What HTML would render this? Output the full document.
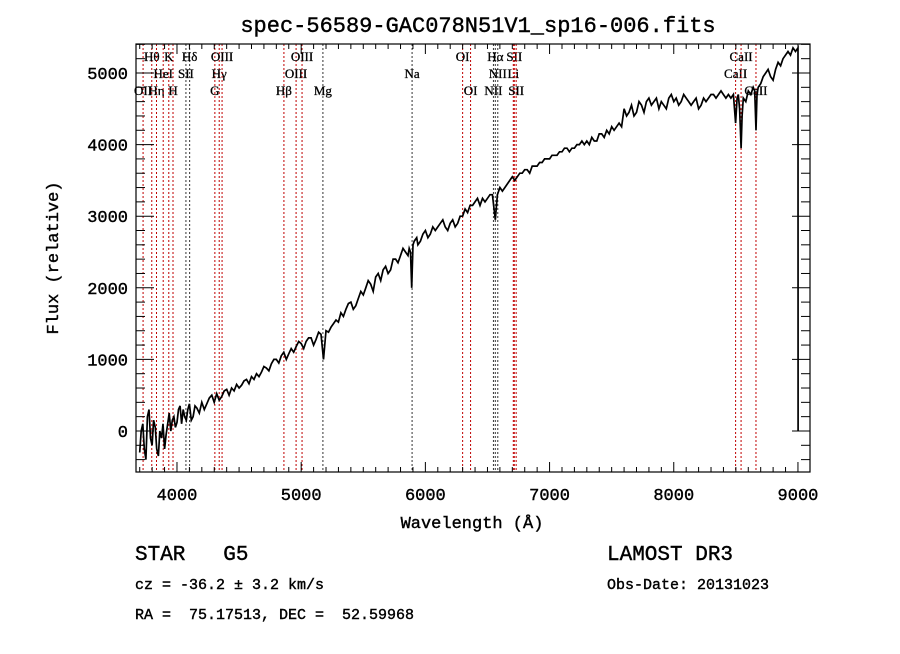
<!DOCTYPE html>
<html><head><meta charset="utf-8"><style>
body{margin:0;background:#fff;}
svg text{font-family:"Liberation Mono",monospace;white-space:pre;stroke:#000;stroke-width:0.4;}
.lab{font-family:"Liberation Serif",serif;font-size:13px;stroke-width:0.3;}
</style></head><body>
<svg id="c" width="900" height="649" xmlns="http://www.w3.org/2000/svg" xml:space="preserve">
<text x="478" y="32" text-anchor="middle" font-size="22">spec-56589-GAC078N51V1_sp16-006.fits</text>
<g id="lines"></g>
<g id="ticks"></g>
<path id="spec" fill="none" stroke="#000" stroke-width="1.7" stroke-linejoin="miter"/>
<rect x="136" y="44" width="674" height="428" fill="none" stroke="#000" stroke-width="1.2"/>
<text x="472" y="528" text-anchor="middle" font-size="17">Wavelength (Å)</text>
<text transform="translate(58,258) rotate(-90)" text-anchor="middle" font-size="17">Flux (relative)</text>
<text x="135" y="560" font-size="21">STAR   G5</text>
<text x="607" y="560" font-size="21">LAMOST DR3</text>
<text x="135" y="589" font-size="15">cz = -36.2 ± 3.2 km/s</text>
<text x="607" y="589" font-size="15">Obs-Date: 20131023</text>
<text x="135" y="619" font-size="15">RA =  75.17513, DEC =  52.59968</text>
</svg>
<script>
const wave=[3700,3712,3725,3737,3750,3762,3775,3787,3800,3812,3825,3837,3850,3862,3875,3887,3900,3912,3925,3937,3950,3962,3975,3987,4000,4012,4025,4037,4050,4062,4075,4087,4100,4115,4130,4145,4160,4180,4200,4220,4240,4260,4280,4300,4320,4340,4360,4380,4400,4420,4440,4460,4480,4500,4520,4540,4560,4580,4600,4620,4640,4660,4680,4700,4720,4740,4760,4780,4800,4820,4840,4860,4880,4900,4920,4940,4960,4980,5000,5020,5040,5060,5080,5100,5120,5140,5160,5180,5200,5220,5240,5260,5280,5300,5320,5340,5360,5380,5400,5420,5440,5460,5480,5500,5520,5540,5560,5580,5600,5620,5640,5660,5680,5700,5720,5740,5760,5780,5800,5820,5840,5860,5870,5880,5890,5900,5910,5930,5940,5960,5980,6000,6020,6040,6060,6080,6100,6120,6140,6160,6180,6200,6220,6240,6260,6280,6300,6320,6340,6360,6380,6400,6420,6440,6460,6480,6500,6520,6540,6563,6580,6600,6620,6640,6660,6680,6700,6720,6740,6760,6780,6800,6820,6840,6860,6880,6900,6920,6940,6960,6980,7000,7020,7040,7060,7080,7100,7120,7140,7160,7180,7200,7220,7240,7260,7280,7300,7320,7340,7360,7380,7400,7420,7440,7460,7480,7500,7520,7540,7560,7580,7600,7620,7640,7660,7680,7700,7720,7740,7760,7780,7800,7820,7840,7860,7880,7900,7920,7940,7960,7980,8000,8020,8040,8060,8080,8100,8120,8140,8160,8180,8200,8220,8240,8260,8280,8300,8320,8340,8360,8380,8400,8420,8440,8460,8480,8498,8510,8520,8530,8542,8550,8560,8580,8600,8620,8640,8652,8662,8670,8680,8700,8720,8740,8760,8780,8800,8820,8840,8860,8880,8900,8920,8940,8960,8980,9000,9001];
const flux=[-300,0,100,-250,-400,200,300,-100,-200,150,50,-250,-350,0,-100,100,-250,-50,100,250,0,150,200,50,120,300,350,100,300,200,150,300,380,150,200,350,320,250,400,300,380,460,500,400,520,430,480,560,580,500,600,560,650,600,640,700,720,660,760,720,800,760,820,900,880,840,940,1000,1000,950,1050,1100,1000,1080,1150,1100,1180,1250,1220,1150,1250,1300,1300,1200,1280,1380,1350,1000,1400,1380,1450,1500,1550,1520,1650,1600,1700,1780,1800,1700,1750,1850,1950,1900,2000,2100,2050,1950,2150,2200,2100,2250,2300,2200,2250,2400,2400,2350,2450,2550,2500,2450,2550,2500,2000,2600,2650,2700,2600,2650,2750,2800,2700,2750,2850,2800,2850,2900,2950,2850,2800,2900,2950,2850,2900,3000,3000,3100,3050,3150,3150,3200,3250,3150,3250,3200,3250,3300,3300,2950,3300,3400,3350,3400,3450,3500,3550,3500,3550,3600,3600,3650,3650,3600,3700,3700,3700,3750,3750,3800,3800,3800,3850,3850,3850,3900,3900,3950,3950,3900,3950,3950,4000,4000,4050,4000,4050,4000,4100,4050,4050,4150,4150,4100,4200,4150,4250,4200,4250,4300,4250,4500,4400,4450,4550,4400,4450,4600,4550,4450,4600,4650,4550,4600,4650,4500,4600,4550,4500,4650,4700,4600,4650,4550,4600,4700,4650,4600,4550,4600,4650,4500,4550,4650,4600,4650,4700,4700,4650,4700,4750,4700,4650,4700,4650,4700,4300,4650,4700,4500,3950,4400,4650,4600,4750,4700,4800,4750,4200,4700,4800,4850,4950,5000,5050,4950,4900,5050,5150,5100,5200,5250,5300,5250,5350,5300,5350,0];
const lineWave=[3727,3797,3835,3889,3934,3968,4072,4102,4305,4340,4363,4861,4959,5007,5175,5893,6300,6364,6548,6563,6583,6708,6716,6731,8498,8542,8662];
const lineLabel=["OII","Hθ","Hη","HeI","K","H","SII","Hδ","G","Hγ","OIII","Hβ","OIII","OIII","Mg","Na","OI","OI","NII","Hα","NII","Li","SII","SII","CaII","CaII","CaII"];
const lineRow=[3,1,3,2,1,3,2,1,3,2,1,3,2,1,3,2,1,3,3,1,2,2,1,3,2,1,3];
const lineBlack=[0,0,0,0,0,0,1,1,0,0,0,0,0,0,1,1,0,0,1,1,1,0,0,0,0,0,0];
const xTicks=[4000,5000,6000,7000,8000,9000];
const yTicks=[0,1000,2000,3000,4000,5000];
const X0=3670,X1=9097,Y0=-573,Y1=5405,L=136,R=810,T=44,B=472;
const sx=w=>L+(w-X0)/(X1-X0)*(R-L);
const sy=f=>B-(f-Y0)/(Y1-Y0)*(B-T);
const NS="http://www.w3.org/2000/svg";
function mk(tag,attrs,parent){const e=document.createElementNS(NS,tag);for(const k in attrs)e.setAttribute(k,attrs[k]);parent.appendChild(e);return e;}
let d="";
const n=Math.min(wave.length,flux.length);
for(let i=0;i<n;i++){d+=(i?"L":"M")+sx(wave[i]).toFixed(1)+","+sy(flux[i]).toFixed(1);}
document.getElementById('spec').setAttribute('d',d);
const lg=document.getElementById('lines');
const rowY=[0,61,78,95];
for(let i=0;i<lineWave.length;i++){
  const x=sx(lineWave[i]);
  const ln=mk('line',{x1:x,x2:x,y1:T,y2:B,stroke:lineBlack[i]?'#333':'#c00000','stroke-width':1,'stroke-dasharray':'2,2'},lg);
  
  
  const t=mk('text',{x:x,y:rowY[lineRow[i]],'text-anchor':'middle',class:'lab'},lg);
  t.textContent=lineLabel[i];
  
  
}
const tg=document.getElementById('ticks');
for(let w=3700;w<=9097;w+=100){
  const x=sx(w);const maj=w%1000===0;const len=maj?10:5;
  mk('line',{x1:x,x2:x,y1:B,y2:B-len,stroke:'#000'},tg);
  mk('line',{x1:x,x2:x,y1:T,y2:T+len,stroke:'#000'},tg);
}
for(let f=-400;f<=5400;f+=200){
  const y=sy(f);const maj=f%1000===0;const len=maj?18:9;
  mk('line',{x1:L,x2:L+len,y1:y,y2:y,stroke:'#000'},tg);
  mk('line',{x1:R,x2:R-len,y1:y,y2:y,stroke:'#000'},tg);
}
for(const w of xTicks){
  const t=mk('text',{x:sx(w),y:B+28,'text-anchor':'middle','font-size':17},tg);
  t.textContent=w;
  
  
}
for(const f of yTicks){
  const t=mk('text',{x:L-8,y:sy(f)+6,'text-anchor':'end','font-size':17},tg);
  t.textContent=f;
  
  
}
</script>
</body></html>
